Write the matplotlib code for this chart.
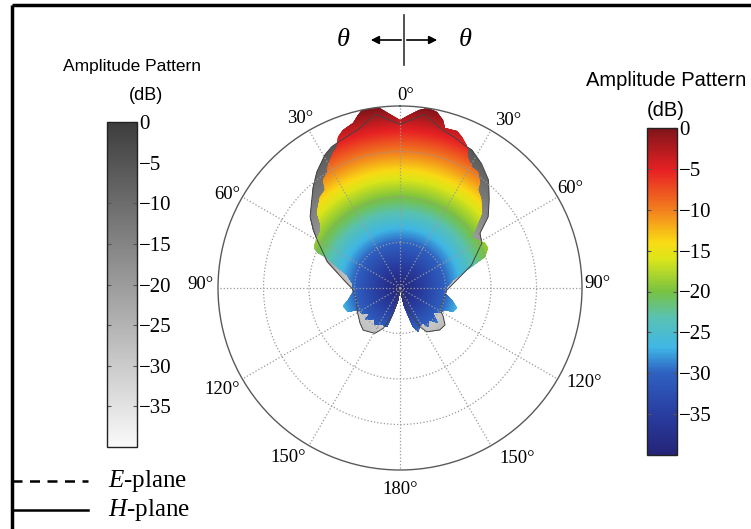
import numpy as np
import matplotlib
matplotlib.use("Agg")
import matplotlib.pyplot as plt
from matplotlib.colors import LinearSegmentedColormap, Normalize
from matplotlib.cm import ScalarMappable
from matplotlib.patches import Polygon

plt.rcParams["mathtext.fontset"] = "custom"
plt.rcParams["mathtext.rm"] = "Liberation Serif"
plt.rcParams["mathtext.it"] = "Liberation Serif:italic"

# ---------------- data (angle in deg, clockwise from top; value in dB) -------------
h_theta = [-180, -175, -170, -165, -161, -152, -146, -140, -132, -130, -125, -117,
           -114.6, -108, -103, -94.5, -84.4, -76.3, -71.4, -67.9, -67, -65.4, -62.3,
           -54.9, -51, -48.1, -45.1, -41.2, -37.4, -35.4, -32.6, -30.2, -26.3, -24.1,
           -22.2, -19.7, -15.8, -13.5, -12, -7, -4, 0, 3, 6, 9, 11.8, 14.5, 15.7,
           19.9, 22.2, 25.3, 27.8, 30.6, 34, 37, 38.6, 42.3, 47.6, 50.6, 55.3, 58.5,
           62.3, 65.8, 69.8, 71.4, 74.9, 81.5, 88.4, 96.7, 103, 109.7, 114, 116, 122,
           127, 132.6, 138, 143.8, 146.6, 152, 157, 161, 163, 167, 172, 180]
h_db = [-40, -39.5, -37, -34, -31, -31, -30.2, -31, -29.6, -31.4, -30, -29.3,
        -27.5, -26.9, -28.3, -29.7, -29.3, -27.9, -25.3, -22.6, -20.5, -19.1, -18.9,
        -18.5, -17.4, -15.4, -14.7, -13.3, -12.9, -10.9, -10.1, -8.7, -7.0, -6.0,
        -4.1, -3.1, -2.4, -0.9, 0, 0, -1.5, -3.1, -2.0, -0.6, 0, -0.4, -1.9, -3.5,
        -3.4, -4.1, -5.6, -7.8, -9.0, -9.2, -10.8, -12.4, -13.4, -15.7, -18.2, -20.8, -19.8,
        -18.9, -18.7, -20.1, -21.8, -24.8, -28.2, -29.7, -30.0, -28.3, -26.8, -27.2, -29.0, -29.6,
        -31.0, -28.6, -30.5, -29.5, -30.7, -30.5, -29.6, -31.0, -33.0, -36.0, -39.0, -40]

e_theta = [-180, -175, -170, -165, -157.5, -151, -138.9, -131.4, -118.7, -105, -92,
           -80, -70, -60, -56.2, -51.6, -45.1, -40.6, -35.6, -29.4, -25.8, -20, -15,
           -8, 0, 8, 15, 20, 24.7, 27.5, 33.2, 39.3, 45.1, 51.1, 55.6, 61.3, 72.2, 82,
           92.5, 105.5, 118, 123.5, 129.4, 136.4, 148.6, 152.7, 158, 162, 170, 180]
e_db = [-40, -40, -38, -34.2, -30.4, -28.6, -27.7, -28.3, -29.3, -30.1, -29.7,
        -27, -23, -19, -17.1, -14.8, -12.6, -10.7, -8.6, -6.4, -5.5, -4.8, -4.0,
        -1.5, -4.0, -1.5, -4.0, -4.8, -5.6, -5.8, -7.3, -9.3, -12.3, -15.1, -18.7, -19.5, -23.5, -27.4,
        -29.7, -30.1, -30.0, -28.6, -27.2, -27.3, -28.7, -30.4, -34.0, -38.0, -40, -40]

angle_ticks = [0, 30, 60, 90, 120, 150, 180, 210, 240, 270, 300, 330]
angle_labels = ["0°", "30°", "60°", "90°", "120°", "150°", "180°",
                "150°", "120°", "90°", "60°", "30°"]
cbar_ticks = [0, -5, -10, -15, -20, -25, -30, -35]
cbar_labels = ["0", "−5", "−10", "−15", "−20", "−25", "−30", "−35"]

# ---------------- colormaps -------------
jet_like = LinearSegmentedColormap.from_list("jetlike", [
    (0.000, (0.14, 0.14, 0.47)),
    (0.125, (0.16, 0.24, 0.63)),
    (0.250, (0.18, 0.38, 0.76)),
    (0.330, (0.25, 0.72, 0.90)),
    (0.420, (0.35, 0.76, 0.70)),
    (0.500, (0.47, 0.76, 0.26)),
    (0.600, (0.86, 0.90, 0.10)),
    (0.650, (0.98, 0.86, 0.08)),
    (0.750, (0.95, 0.50, 0.12)),
    (0.870, (0.91, 0.13, 0.14)),
    (1.000, (0.50, 0.08, 0.10))])
gray_like = LinearSegmentedColormap.from_list("graylike", [
    (0.0, (0.98, 0.98, 0.98)), (1.0, (0.24, 0.24, 0.24))])
norm = Normalize(vmin=-40, vmax=0)

serif = "Liberation Serif"
sans = "Liberation Sans"

W, H = 751, 529
fig = plt.figure(figsize=(W / 100, H / 100), dpi=100)

# ---------------- polar plot -------------
cx, cy, R = 400, 288, 182
ax = fig.add_axes([(cx - R) / W, (H - cy - R) / H, 2 * R / W, 2 * R / H], projection="polar")
ax.set_theta_zero_location("N")
ax.set_theta_direction(-1)
ax.set_ylim(-40, 0)

tg = np.linspace(0, 2 * np.pi, 721)
rg = np.linspace(-40, 0, 161)
TT, RR = np.meshgrid(tg, rg)

e_poly = Polygon(np.column_stack([np.radians(e_theta), e_db]), closed=True,
                 transform=ax.transData)
h_poly = Polygon(np.column_stack([np.radians(h_theta), h_db]), closed=True,
                 transform=ax.transData)

m1 = ax.pcolormesh(TT, RR, RR, cmap=gray_like, norm=norm, shading="gouraud", zorder=1)
m1.set_clip_path(e_poly)
m2 = ax.pcolormesh(TT, RR, RR, cmap=jet_like, norm=norm, shading="gouraud", zorder=1.2)
m2.set_clip_path(h_poly)
ax.plot(np.radians(e_theta), e_db, color="#444444", lw=0.7, zorder=1.5)

ax.set_rticks([-30, -20, -10])
ax.set_yticklabels([])
ax.set_thetagrids(angle_ticks, angle_labels, fontsize=13.5, family=serif)
ax.tick_params(axis="x", pad=2)
ax.grid(True, color="#9a9a9a", linestyle=":", linewidth=0.9)
ax.set_axisbelow(False)
ax.spines["polar"].set_color("#5a5a5a")
ax.spines["polar"].set_linewidth(1.0)

# fine-tune the placement of the angle labels to match the reference layout
label_offsets = {0: (6, 7), 30: (8, 5), 60: (-2, 0), 90: (-2, -4), 120: (12, -5),
                 150: (17, -2), 180: (0, 2), 210: (-12, -3), 240: (-5, 2),
                 270: (0, -4), 300: (0, 6), 330: (0, 3)}
fig.canvas.draw()
import matplotlib.transforms as mtransforms
for tick, ang in zip(ax.xaxis.get_major_ticks(), angle_ticks):
    dx, dy = label_offsets.get(ang, (0, 0))
    off = mtransforms.ScaledTranslation(dx / 100, -dy / 100, fig.dpi_scale_trans)
    tick.label1.set_transform(tick.label1.get_transform() + off)

# ---------------- colorbars -------------
def make_cbar(x0, y0, x1, y1, cmap):
    cax = fig.add_axes([x0 / W, (H - y1) / H, (x1 - x0) / W, (y1 - y0) / H])
    cb = fig.colorbar(ScalarMappable(norm=norm, cmap=cmap), cax=cax, ticks=cbar_ticks)
    cb.ax.set_yticklabels(cbar_labels, family=serif, fontsize=15)
    cb.ax.tick_params(direction="in", length=3, left=True, right=True,
                      color="#555555", pad=1.5)
    cb.outline.set_edgecolor("#222222")
    cb.outline.set_linewidth(1.0)
    return cb

make_cbar(107, 122, 137, 447, gray_like)
make_cbar(647, 128, 677, 455, jet_like)

# ---------------- overlay for annotations -------------
ov = fig.add_axes([0, 0, 1, 1], zorder=5)
ov.set_xlim(0, W)
ov.set_ylim(H, 0)
ov.axis("off")
ov.patch.set_visible(False)

# frame
ov.plot([12, 12], [5, H], color="black", lw=2.5, solid_capstyle="butt")
ov.plot([12, W], [5, 5], color="black", lw=2.5, solid_capstyle="butt")

# colorbar titles
ov.text(132, 67, "Amplitude Pattern", family=sans, fontsize=12.5, ha="center", va="center")
ov.text(146, 95, "(dB)", family=sans, fontsize=13, ha="center", va="center")
ov.text(666, 81, "Amplitude Pattern", family=sans, fontsize=14.5, ha="center", va="center")
ov.text(666, 110, "(dB)", family=sans, fontsize=14.5, ha="center", va="center")

# theta direction symbol
ov.text(343, 40, "θ", family=serif, style="italic", fontsize=19, ha="center", va="center")
ov.text(465, 40, "θ", family=serif, style="italic", fontsize=19, ha="center", va="center")
ov.annotate("", xy=(368, 40), xytext=(404, 40),
            arrowprops=dict(arrowstyle="-|>", color="black", lw=1.2, mutation_scale=12))
ov.annotate("", xy=(440, 40), xytext=(404, 40),
            arrowprops=dict(arrowstyle="-|>", color="black", lw=1.2, mutation_scale=12))
ov.plot([404, 404], [15, 65], color="#333333", lw=1.2)

# legend
ov.plot([12, 88], [481, 481], color="black", lw=1.8, linestyle=(0, (4, 3)))
ov.plot([12, 88], [510, 510], color="black", lw=1.8)
ov.text(108, 481, r"$E$-plane", family=serif, fontsize=18, ha="left", va="center")
ov.text(108, 510, r"$H$-plane", family=serif, fontsize=18, ha="left", va="center")

fig.savefig("out.png", dpi=100)
